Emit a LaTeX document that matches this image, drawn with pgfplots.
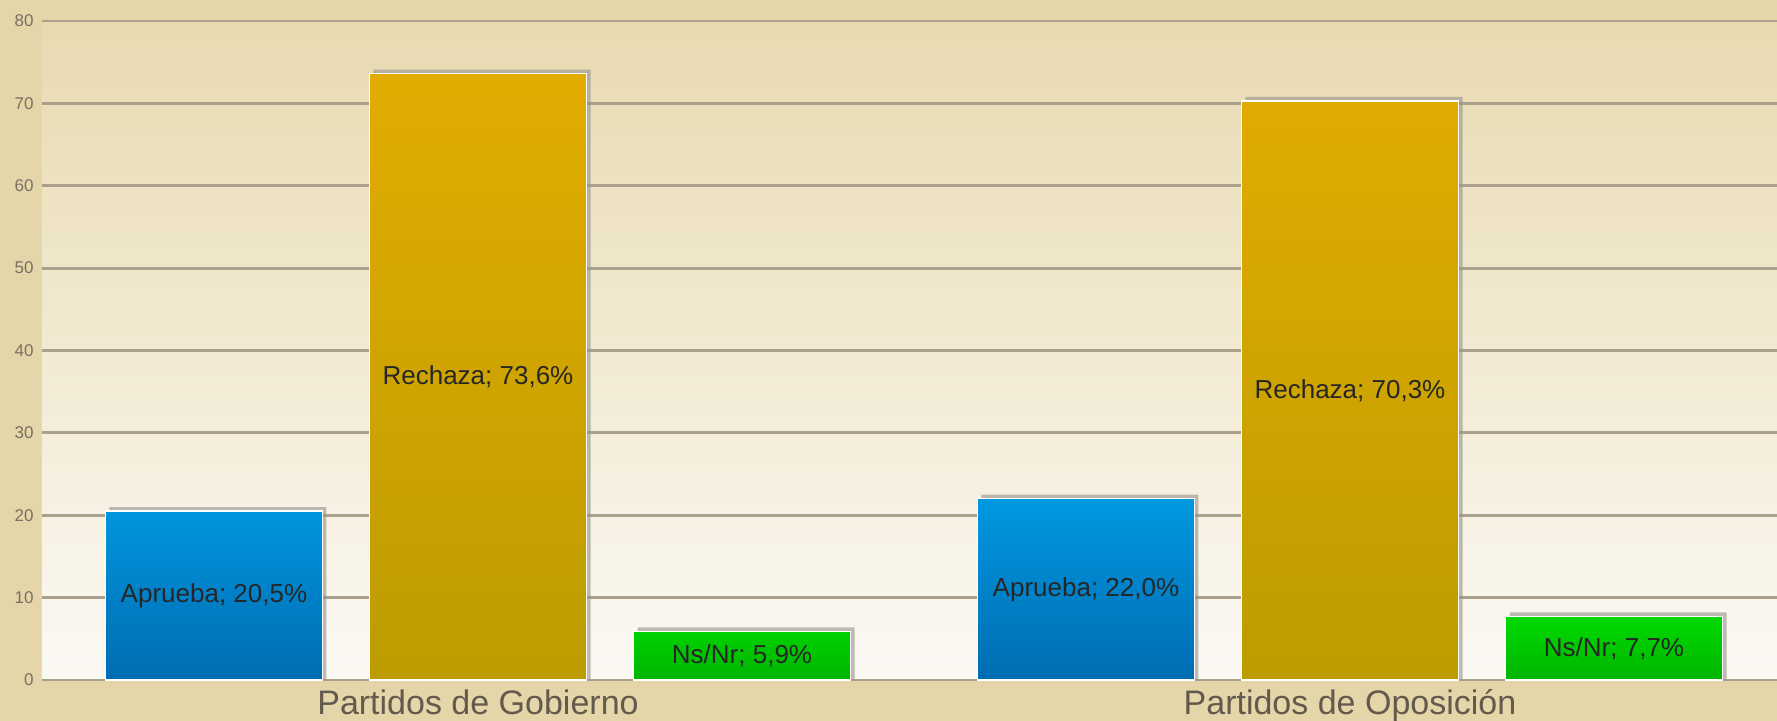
\documentclass[border=0pt]{standalone}
\usepackage{pgfplots}
\pgfplotsset{compat=1.18}
\usepackage{fontspec}
\setmainfont{Liberation Sans}
\definecolor{bgouter}{RGB}{229,214,170}
\definecolor{bgtop}{RGB}{232,218,176}
\definecolor{bgbot}{RGB}{251,249,244}
\definecolor{gridc}{RGB}{170,160,140}
\definecolor{shadowc}{RGB}{150,146,140}
\definecolor{blueT}{RGB}{0,152,224}
\definecolor{blueB}{RGB}{0,108,178}
\definecolor{goldT}{RGB}{226,172,0}
\definecolor{goldB}{RGB}{188,156,0}
\definecolor{greenT}{RGB}{0,218,0}
\definecolor{greenB}{RGB}{0,180,0}
\definecolor{ticklab}{RGB}{120,112,96}
\definecolor{catlab}{RGB}{98,90,76}
\pgfplotsset{
  barlab/.style={draw=none, mark=none, nodes near coords={#1},
    every node near coord/.append style={anchor=center, font=\fontsize{13pt}{15pt}\selectfont, text=black!85}},
}
\begin{document}
\begin{tikzpicture}
\fill[bgouter] (-21pt,-20.5pt) rectangle (867.5pt,340pt);
\begin{axis}[
  at={(0,0)}, anchor=south west,
  scale only axis, width=867.5pt, height=329.5pt,
  xmin=-0.5, xmax=1.4897, ymin=0, ymax=80,
  axis line style={draw=none},
  axis background/.style={shade, top color=bgtop, bottom color=bgbot},
  ymajorgrids, grid style={gridc, line width=1.4pt},
  ytick={0,10,...,80},
  xtick={0,1},
  xticklabels={Partidos de Gobierno, Partidos de Oposición},
  tick style={draw=none},
  /pgf/number format/assume math mode=true,
  xticklabel style={font=\fontsize{17pt}{20pt}\selectfont, text=catlab, anchor=base, inner sep=0pt, yshift=-17.5pt},
  yticklabel style={font=\fontsize{8.5pt}{10pt}\selectfont, text=ticklab, anchor=east, inner sep=0pt, xshift=-4pt},
  clip=false,
]
% shadows
\addplot[ybar, bar width=0.2489, bar shift=-0.2982, fill=shadowc, draw=none, opacity=0.6] coordinates {(0,21.0) (1,22.5)};
\addplot[ybar, bar width=0.2489, bar shift=0.0046, fill=shadowc, draw=none, opacity=0.6] coordinates {(0,74.1) (1,70.8)};
\addplot[ybar, bar width=0.2489, bar shift=0.3074, fill=shadowc, draw=none, opacity=0.6] coordinates {(0,6.4) (1,8.2)};
% bars
\addplot[ybar, bar width=0.2489, bar shift=-0.3028, top color=blueT, bottom color=blueB, draw=white, line width=0.7pt] coordinates {(0,20.5) (1,22.0)};
\addplot[ybar, bar width=0.2489, bar shift=0, top color=goldT, bottom color=goldB, draw=white, line width=0.7pt] coordinates {(0,73.6) (1,70.3)};
\addplot[ybar, bar width=0.2489, bar shift=0.3028, top color=greenT, bottom color=greenB, draw=white, line width=0.7pt] coordinates {(0,5.9) (1,7.7)};
% labels
\addplot[barlab={Aprueba; 20,5\%}] coordinates {(-0.3028,10.25)};
\addplot[barlab={Aprueba; 22,0\%}] coordinates {(0.6972,11.0)};
\addplot[barlab={Rechaza; 73,6\%}] coordinates {(0,36.8)};
\addplot[barlab={Rechaza; 70,3\%}] coordinates {(1,35.15)};
\addplot[barlab={Ns/Nr; 5,9\%}] coordinates {(0.3028,2.95)};
\addplot[barlab={Ns/Nr; 7,7\%}] coordinates {(1.3028,3.85)};
\end{axis}
\pgfresetboundingbox
\path (-21pt,-20.5pt) rectangle (867.5pt,340pt);
\end{tikzpicture}
\end{document}
